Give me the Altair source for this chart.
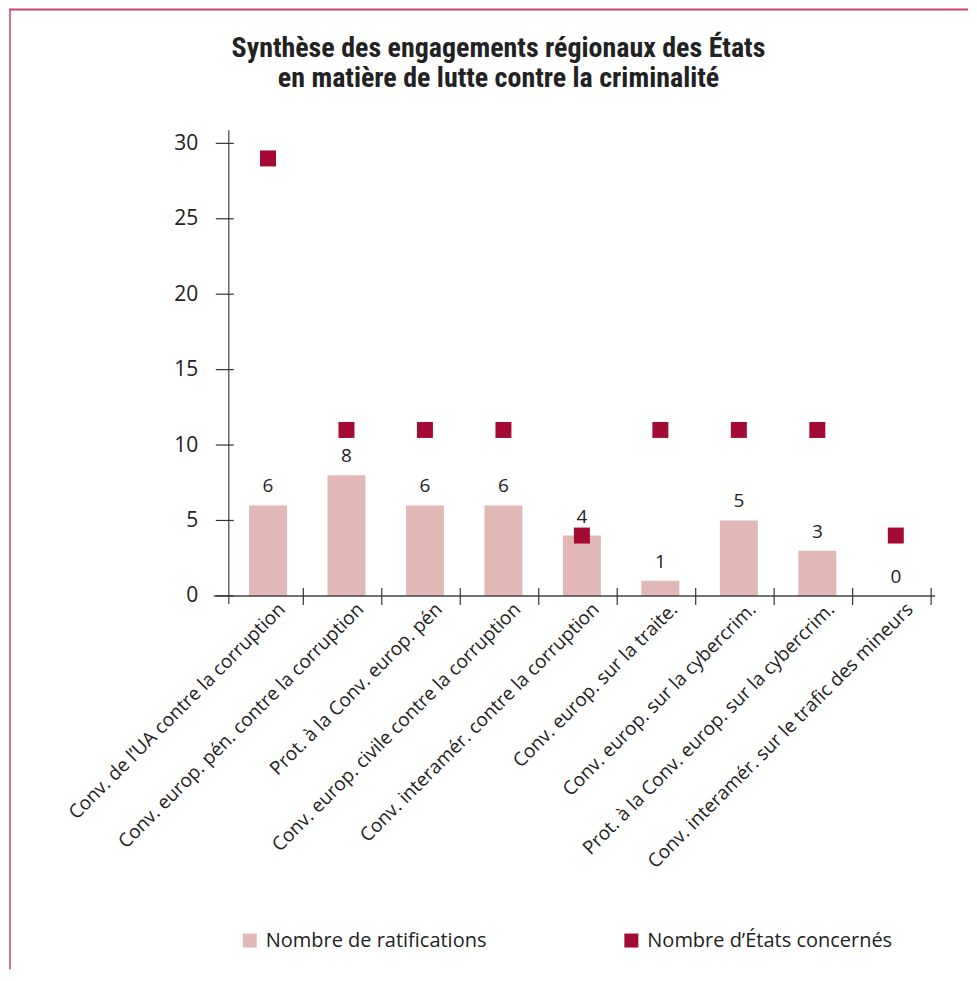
import altair as alt
import pandas as pd

categories = [
    "Conv. de l’UA contre la corruption",
    "Conv. europ. pén. contre la corruption",
    "Prot. à la Conv. europ. pén",
    "Conv. europ. civile contre la corruption",
    "Conv. interamér. contre la corruption",
    "Conv. europ. sur la traite.",
    "Conv. europ. sur la cybercrim.",
    "Prot. à la Conv. europ. sur la cybercrim.",
    "Conv. interamér. sur le trafic des mineurs",
]
ratifications = [6, 8, 6, 6, 4, 1, 5, 3, 0]
etats = [29, 11, 11, 11, 4, 11, 11, 11, 4]
series_names = ["Nombre de ratifications", "Nombre d’États concernés"]
series_colors = ["#e1b8b5", "#a30a36"]
y_ticks = [0, 5, 10, 15, 20, 25, 30]
title_lines = ["Synthèse des engagements régionaux des États",
               "en matière de lutte contre la criminalité"]

W, H = 707, 466
FONT = "Open Sans, Lato, DejaVu Sans"
TFONT = "Liberation Sans Narrow, Roboto Condensed, Liberation Sans"

rat_df = pd.DataFrame({"cat": categories, "value": ratifications, "series": series_names[0]})
eta_df = pd.DataFrame({"cat": categories, "value": etats, "series": series_names[1]})
tick_df = pd.DataFrame({"v": y_ticks})
cat_df = pd.DataFrame({"cat": categories})
one_df = pd.DataFrame({"k": [0]})

xscale = alt.Scale(domain=categories)
yscale = alt.Scale(domain=[0, 30.86], nice=False, zero=True)
cscale = alt.Scale(domain=series_names, range=series_colors)

bars = alt.Chart(rat_df).mark_bar(size=38).encode(
    x=alt.X("cat:N", scale=xscale, sort=categories,
            axis=alt.Axis(title=None, labelAngle=-45, labelAlign="right", labelBaseline="middle",
                          labelPadding=10, labelOffset=14, labelFontSize=19, labelFont=FONT,
                          labelColor="#222", domain=False, ticks=False, labelLimit=400)),
    y=alt.Y("value:Q", scale=yscale,
            axis=alt.Axis(title=None, values=y_ticks, grid=False, domain=False, ticks=False,
                          labelPadding=31, labelFontSize=21, labelFont=FONT, labelColor="#222")),
    color=alt.Color("series:N", scale=cscale,
                    legend=alt.Legend(title=None, orient="none", legendX=11, legendY=801,
                                      direction="horizontal", symbolType="square", symbolSize=196,
                                      symbolStrokeWidth=0, labelFontSize=20, labelFont=FONT,
                                      labelColor="#222", columnPadding=134, labelOffset=6,
                                      labelLimit=400)),
)

labels = alt.Chart(rat_df).mark_text(baseline="bottom", dy=-9, fontSize=19, font=FONT, color="#222").encode(
    x=alt.X("cat:N", scale=xscale, sort=categories),
    y=alt.Y("value:Q", scale=yscale),
    text="value:Q",
)

squares = alt.Chart(eta_df).mark_square(size=256, opacity=1).encode(
    x=alt.X("cat:N", scale=xscale, sort=categories),
    y=alt.Y("value:Q", scale=yscale),
    color=alt.Color("series:N", scale=cscale),
)

yaxis_line = alt.Chart(one_df).mark_rule(color="#666", strokeWidth=1.5).encode(
    x=alt.value(0), y=alt.value(0), y2=alt.value(H + 8))
xaxis_line = alt.Chart(one_df).mark_rule(color="#444", strokeWidth=1.5).encode(
    x=alt.value(-15), x2=alt.value(W), y=alt.value(H))
yticks = alt.Chart(tick_df).mark_rule(color="#333", strokeWidth=1.2).encode(
    y=alt.Y("v:Q", scale=yscale), x=alt.value(-13), x2=alt.value(5))
xticks = alt.Chart(cat_df).mark_rule(color="#333", strokeWidth=1.2).encode(
    x=alt.X("cat:N", scale=xscale, sort=categories, bandPosition=1),
    y=alt.value(H - 8), y2=alt.value(H + 9))

frame_top = alt.Chart(one_df).mark_rule(color="#c8466a", strokeWidth=2).encode(
    x=alt.value(-220), x2=alt.value(740), y=alt.value(-121))
frame_left = alt.Chart(one_df).mark_rule(color="#c8466a", strokeWidth=1.5).encode(
    x=alt.value(-219), y=alt.value(-121), y2=alt.value(840))

title = alt.Chart(one_df).mark_text(
    text=title_lines, fontSize=28, font=TFONT, fontWeight="bold", color="#222",
    align="center", baseline="middle", lineHeight=30,
).encode(x=alt.value(270), y=alt.value(-81))

chart = alt.layer(
    frame_top, frame_left, title, bars, labels, squares, yaxis_line, xaxis_line, yticks, xticks
).properties(
    width=W, height=H, padding=0,
).configure_view(stroke=None).resolve_scale(x="shared", y="shared", color="shared")

chart.save("out.html", embed_options={"renderer": "svg", "actions": False})
